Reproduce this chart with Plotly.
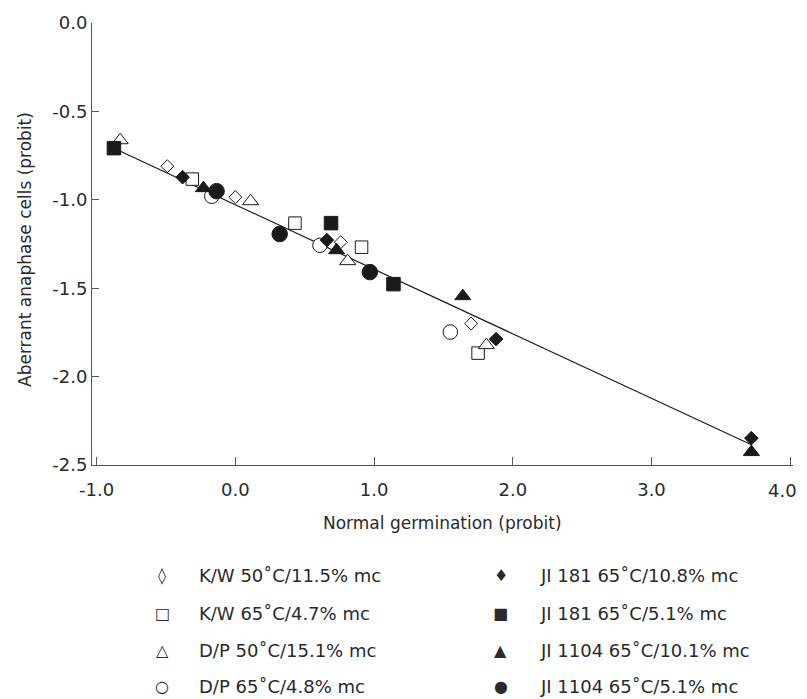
import plotly.graph_objects as go

# ---- data (probit values) ----
kw50_x = [-0.49, 0.00, 0.76, 1.70]
kw50_y = [-0.81, -0.985, -1.24, -1.70]
kw65_x = [-0.31, 0.43, 0.91, 1.75]
kw65_y = [-0.883, -1.132, -1.268, -1.867]
dp50_x = [-0.83, 0.11, 0.81, 1.81]
dp50_y = [-0.663, -1.008, -1.347, -1.822]
dp65_x = [-0.17, 0.61, 1.55]
dp65_y = [-0.98, -1.257, -1.748]
ji181_108_x = [-0.38, 0.66, 1.88, 3.72]
ji181_108_y = [-0.872, -1.228, -1.788, -2.348]
ji181_51_x = [-0.875, 0.69, 1.14]
ji181_51_y = [-0.708, -1.132, -1.477]
ji1104_101_x = [-0.23, 0.73, 1.64, 3.72]
ji1104_101_y = [-0.934, -1.285, -1.545, -2.427]
ji1104_51_x = [-0.135, 0.32, 0.97]
ji1104_51_y = [-0.951, -1.194, -1.409]

# fitted regression line parameters
fit_slope = -0.365
fit_intercept = -1.028

x_ticks = [-1.0, 0.0, 1.0, 2.0, 3.0, 4.0]
y_ticks = [0.0, -0.5, -1.0, -1.5, -2.0, -2.5]

legend_labels_left = ["K/W 50\u02daC/11.5% mc", "K/W 65\u02daC/4.7% mc",
                      "D/P 50\u02daC/15.1% mc", "D/P 65\u02daC/4.8% mc"]
legend_labels_right = ["JI 181 65\u02daC/10.8% mc", "JI 181 65\u02daC/5.1% mc",
                       "JI 1104 65\u02daC/10.1% mc", "JI 1104 65\u02daC/5.1% mc"]
legend_syms_left = ["\u25ca", "\u25a1", "\u25b3", "\u25cb"]
legend_syms_right = ["\u2666", "\u25a0", "\u25b2", "\u25cf"]

FONT = "DejaVu Sans"
TXT = "#2a2a2a"
OFF = 8                      # page body margin in the browser
W, H = 807 - OFF, 699 - OFF
L, T = 92 - OFF, 23 - OFF
R = W - (793 - OFF)
B = H - (465 - OFF)
pw = W - L - R
ph = H - T - B

def px2paper(px, py):
    """screen pixel -> paper coordinates"""
    fx, fy = px - OFF, py - OFF
    return (fx - L) / pw, (H - B - fy) / ph

fig = go.Figure()

all_x = (kw50_x + kw65_x + dp50_x + dp65_x + ji181_108_x + ji181_51_x
         + ji1104_101_x + ji1104_51_x)
lx = [min(all_x), max(all_x)]
ly = [fit_intercept + fit_slope * v for v in lx]
fig.add_trace(go.Scatter(x=lx, y=ly, mode="lines",
                         line=dict(color="#1a1a1a", width=1.2),
                         hoverinfo="skip", showlegend=False))

def add(xs, ys, symbol, size, filled):
    fig.add_trace(go.Scatter(
        x=xs, y=ys, mode="markers", showlegend=False,
        marker=dict(symbol=symbol, size=size,
                    color="#1a1a1a" if filled else "white",
                    line=dict(color="#1a1a1a", width=1))))

add(kw50_x, kw50_y, "diamond", 10, False)
add(kw65_x, kw65_y, "square", 12.5, False)
add(dp50_x, dp50_y, "triangle-up", 14, False)
add(dp65_x, dp65_y, "circle", 14.5, False)
add(ji181_108_x, ji181_108_y, "diamond", 10.5, True)
add(ji181_51_x, ji181_51_y, "square", 13.5, True)
add(ji1104_101_x, ji1104_101_y, "triangle-up", 14, True)
add(ji1104_51_x, ji1104_51_y, "circle", 15.5, True)

ann = []
rows_y = [575, 613, 650, 686]
for i, yy in enumerate(rows_y):
    for sx, tx, sym, lab in [(162, 197, legend_syms_left[i], legend_labels_left[i]),
                             (501, 538, legend_syms_right[i], legend_labels_right[i])]:
        ax, ay = px2paper(sx, yy)
        ann.append(dict(xref="paper", yref="paper", x=ax, y=ay, text=sym,
                        showarrow=False, xanchor="center", yanchor="middle",
                        font=dict(family=FONT, size=16, color=TXT)))
        ax, ay = px2paper(tx, yy)
        ann.append(dict(xref="paper", yref="paper", x=ax, y=ay, text=lab,
                        showarrow=False, xanchor="left", yanchor="middle",
                        font=dict(family=FONT, size=18, color=TXT)))

# last x tick label kept inside the page edge
last_lab = f"{x_ticks[-1]:.1f}"
ax, ay = px2paper(799, 490)
ann.append(dict(xref="paper", yref="paper", x=ax, y=ay, text=last_lab,
                showarrow=False, xanchor="right", yanchor="middle",
                xshift=0, font=dict(family=FONT, size=18, color=TXT)))

# axis titles
ax, ay = px2paper(442, 523)
ann.append(dict(xref="paper", yref="paper", x=ax, y=ay,
                text="Normal germination (probit)", showarrow=False,
                xanchor="center", yanchor="middle",
                font=dict(family=FONT, size=17, color=TXT)))
ax, ay = px2paper(25, 250)
ann.append(dict(xref="paper", yref="paper", x=ax, y=ay,
                text="Aberrant anaphase cells (probit)", showarrow=False,
                textangle=-90, xanchor="center", yanchor="middle",
                font=dict(family=FONT, size=17, color=TXT)))

fig.update_layout(
    width=W, height=H,
    margin=dict(l=L, r=R, t=T, b=B, autoexpand=False),
    plot_bgcolor="white", paper_bgcolor="white",
    font=dict(family=FONT, size=18, color=TXT),
    annotations=ann,
    xaxis=dict(range=[-1.033, 4.02], tickvals=x_ticks,
               ticktext=[f"{v:.1f}" for v in x_ticks[:-1]] + [""],
               ticks="inside", ticklen=8, tickcolor="#555",
               showline=True, linecolor="#555", linewidth=1,
               showgrid=False, zeroline=False, ticklabelstandoff=8,
               automargin=False, tickfont=dict(size=18)),
    yaxis=dict(range=[-2.5, 0.0], tickvals=y_ticks,
               ticktext=[f"{v:.1f}" for v in y_ticks],
               ticks="inside", ticklen=7, tickcolor="#555",
               showline=True, linecolor="#555", linewidth=1,
               showgrid=False, zeroline=False, ticklabelstandoff=0,
               automargin=False, tickfont=dict(size=18)),
)

fig.write_html("out.html")
